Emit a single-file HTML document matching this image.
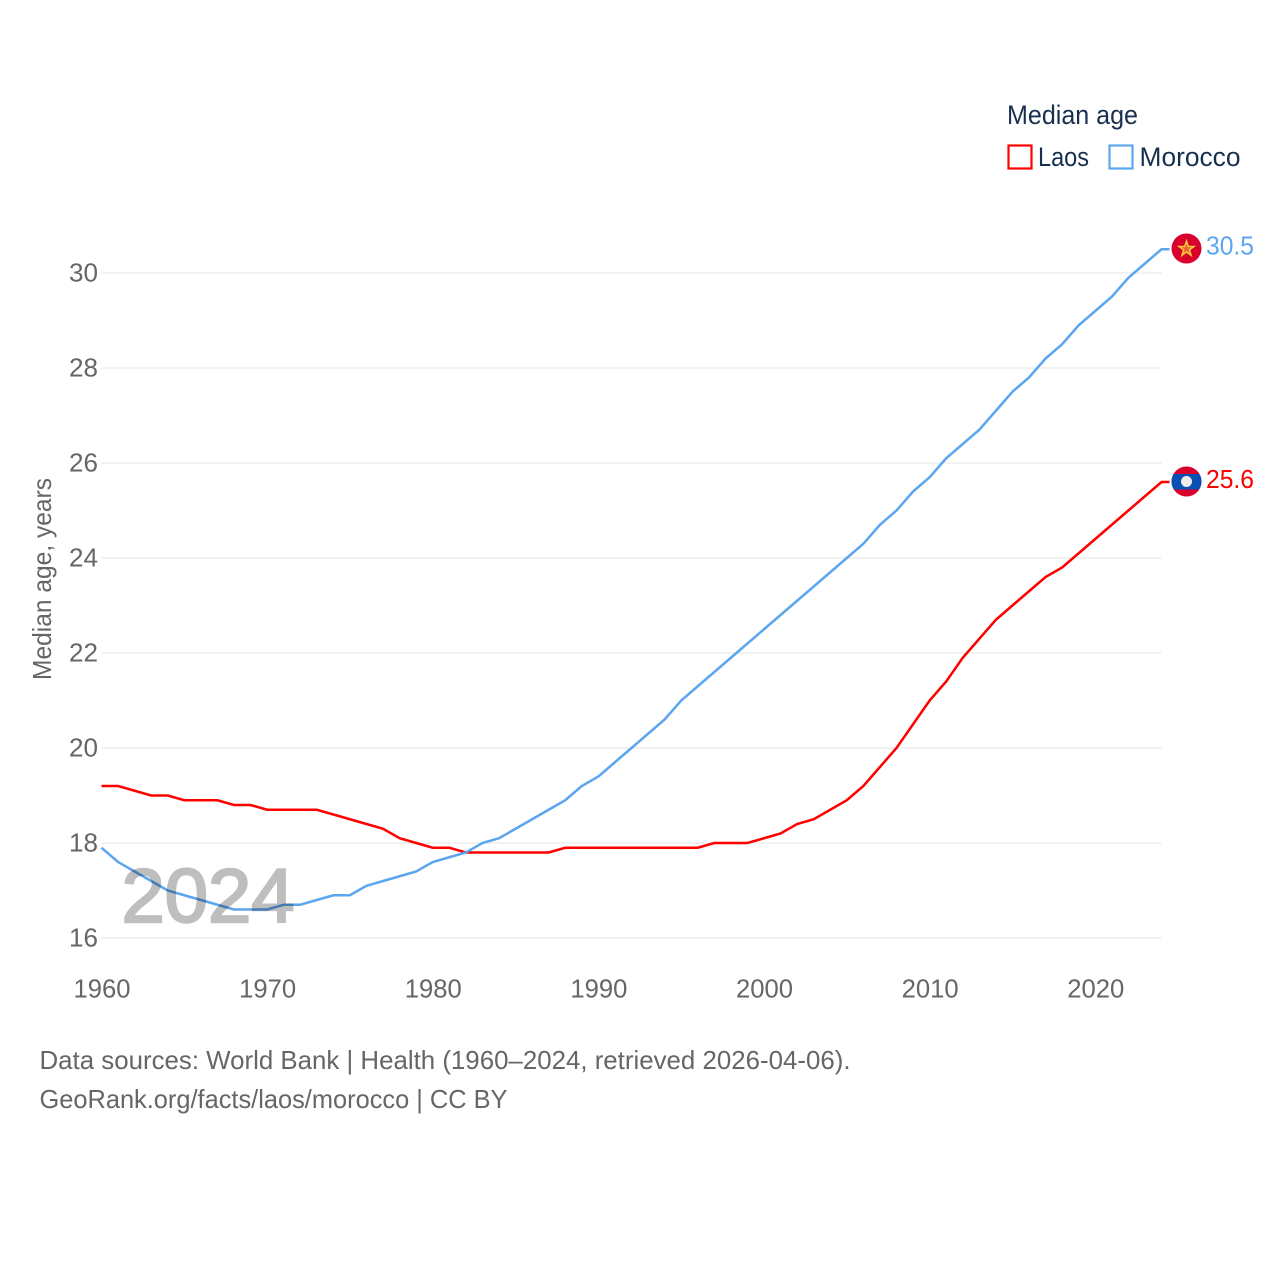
<!DOCTYPE html>
<html lang="en">
<head>
<meta charset="utf-8">
<title>Median age: Laos and Morocco</title>
<style>
html,body{margin:0;padding:0;background:#fff;}
svg{display:block;}
text{font-family:"Liberation Sans",sans-serif;}
</style>
</head>
<body>
<svg id="chart" width="1280" height="1280" viewBox="0 0 1280 1280" xmlns="http://www.w3.org/2000/svg">
  <defs>
    <clipPath id="laos-clip"><circle cx="1186.5" cy="481.5" r="15"/></clipPath>
  </defs>
  <rect width="1280" height="1280" fill="#fff"/>

  <g id="grid"></g>
  <g id="y-ticks"></g>
  <g id="x-ticks"></g>

  <text transform="translate(51,680) rotate(-90)" font-size="26" fill="#666" textLength="202" lengthAdjust="spacingAndGlyphs">Median age, years</text>

  <g id="series"></g>

  <text x="121.5" y="922" font-size="76" fill="#000" stroke="#000" stroke-width="2.4" opacity="0.25" textLength="173" lengthAdjust="spacingAndGlyphs">2024</text>

  <g>
    <text x="1007" y="124" font-size="27" fill="#18304f" textLength="131" lengthAdjust="spacingAndGlyphs">Median age</text>
    <g>
      <rect x="1008.5" y="145.5" width="23" height="23" fill="none" stroke="#ff0000" stroke-width="2.2"/>
      <text x="1038" y="166" font-size="27" fill="#18304f" textLength="51" lengthAdjust="spacingAndGlyphs">Laos</text>
    </g>
    <g>
      <rect x="1109.5" y="145.5" width="23" height="23" fill="none" stroke="#5ca5ef" stroke-width="2.2"/>
      <text x="1139.5" y="166" font-size="27" fill="#18304f" textLength="101" lengthAdjust="spacingAndGlyphs">Morocco</text>
    </g>
  </g>

  <g>
    <circle cx="1186.5" cy="248.5" r="15" fill="#d9002c"/>
    <polygon points="1186.5,241 1188.3,246.5 1194,246.5 1189.4,249.9 1191.1,255.3 1186.5,252 1181.9,255.3 1183.6,249.9 1179,246.5 1184.7,246.5" fill="#f7b733" fill-opacity="0.55" stroke="#f9cb3c" stroke-width="1.5"/>
  </g>
  <g>
    <circle cx="1186.5" cy="481.5" r="15" fill="#d9002c"/>
    <rect x="1171" y="474" width="31" height="15.5" fill="#0a4fb4" clip-path="url(#laos-clip)"/>
    <circle cx="1186.5" cy="481.5" r="5.5" fill="#ececec"/>
  </g>

  <text x="1206" y="254.5" font-size="26" fill="#5ca5ef" textLength="48" lengthAdjust="spacingAndGlyphs">30.5</text>
  <text x="1206" y="488" font-size="26" fill="#ff0000" textLength="48" lengthAdjust="spacingAndGlyphs">25.6</text>

  <text x="39.5" y="1069" font-size="26" fill="#666" textLength="811" lengthAdjust="spacingAndGlyphs">Data sources: World Bank | Health (1960–2024, retrieved 2026-04-06).</text>
  <a><text x="39.5" y="1108" font-size="26" fill="#666" textLength="468" lengthAdjust="spacingAndGlyphs">GeoRank.org/facts/laos/morocco | CC BY</text></a>

  <script>
    const startYear = 1960;
    const yTickValues = [16, 18, 20, 22, 24, 26, 28, 30];
    const xTickValues = [1960, 1970, 1980, 1990, 2000, 2010, 2020];
    const laosValues = [19.2,19.2,19.1,19.0,19.0,18.9,18.9,18.9,18.8,18.8,18.7,18.7,18.7,18.7,18.6,18.5,18.4,18.3,18.1,18.0,17.9,17.9,17.8,17.8,17.8,17.8,17.8,17.8,17.9,17.9,17.9,17.9,17.9,17.9,17.9,17.9,17.9,18.0,18.0,18.0,18.1,18.2,18.4,18.5,18.7,18.9,19.2,19.6,20.0,20.5,21.0,21.4,21.9,22.3,22.7,23.0,23.3,23.6,23.8,24.1,24.4,24.7,25.0,25.3,25.6];
    const moroccoValues = [17.9,17.6,17.4,17.2,17.0,16.9,16.8,16.7,16.6,16.6,16.6,16.7,16.7,16.8,16.9,16.9,17.1,17.2,17.3,17.4,17.6,17.7,17.8,18.0,18.1,18.3,18.5,18.7,18.9,19.2,19.4,19.7,20.0,20.3,20.6,21.0,21.3,21.6,21.9,22.2,22.5,22.8,23.1,23.4,23.7,24.0,24.3,24.7,25.0,25.4,25.7,26.1,26.4,26.7,27.1,27.5,27.8,28.2,28.5,28.9,29.2,29.5,29.9,30.2,30.5];

    const NS = 'http://www.w3.org/2000/svg';
    const xScale = function (year) { return 101.5 + (year - 1960) * (1161.5 - 101.5) / 64; };
    const yScale = function (v) { return 938 - (v - 16) * (938 - 273) / 14; };

    const gridGroup = document.getElementById('grid');
    const yTickGroup = document.getElementById('y-ticks');
    const xTickGroup = document.getElementById('x-ticks');
    const seriesGroup = document.getElementById('series');

    yTickValues.forEach(function (v) {
      const line = document.createElementNS(NS, 'line');
      
      
      line.setAttribute('x1', xScale(1960));
      line.setAttribute('x2', xScale(2024));
      line.setAttribute('y1', yScale(v));
      line.setAttribute('y2', yScale(v));
      line.setAttribute('stroke', '#eeeeee');
      line.setAttribute('stroke-width', '1.5');
      gridGroup.appendChild(line);

      const label = document.createElementNS(NS, 'text');
      
      
      label.setAttribute('x', '69');
      label.setAttribute('y', yScale(v) + 8.5);
      label.setAttribute('font-size', '25.5');
      label.setAttribute('fill', '#666');
      label.setAttribute('textLength', '29');
      label.setAttribute('lengthAdjust', 'spacingAndGlyphs');
      label.textContent = String(v);
      yTickGroup.appendChild(label);
    });

    xTickValues.forEach(function (year) {
      const label = document.createElementNS(NS, 'text');
      
      
      label.setAttribute('x', xScale(year) - 28);
      label.setAttribute('y', '997.5');
      label.setAttribute('font-size', '25.5');
      label.setAttribute('fill', '#666');
      label.setAttribute('textLength', '57');
      label.setAttribute('lengthAdjust', 'spacingAndGlyphs');
      label.textContent = String(year);
      xTickGroup.appendChild(label);
    });

    const buildPoints = function (values) {
      const pts = values.map(function (v, i) {
        return xScale(startYear + i).toFixed(2) + ',' + yScale(v).toFixed(2);
      });
      pts.push((xScale(startYear + values.length - 1) + 8).toFixed(2) + ',' + yScale(values[values.length - 1]).toFixed(2));
      return pts.join(' ');
    };

    const laosLine = document.createElementNS(NS, 'polyline');
    
    
    laosLine.setAttribute('points', buildPoints(laosValues));
    laosLine.setAttribute('fill', 'none');
    laosLine.setAttribute('stroke', '#ff0000');
    laosLine.setAttribute('stroke-width', '2.5');
    seriesGroup.appendChild(laosLine);

    const moroccoLine = document.createElementNS(NS, 'polyline');
    
    
    moroccoLine.setAttribute('points', buildPoints(moroccoValues));
    moroccoLine.setAttribute('fill', 'none');
    moroccoLine.setAttribute('stroke', '#5ca5ef');
    moroccoLine.setAttribute('stroke-width', '2.5');
    seriesGroup.appendChild(moroccoLine);
  </script>
</svg>
</body>
</html>
